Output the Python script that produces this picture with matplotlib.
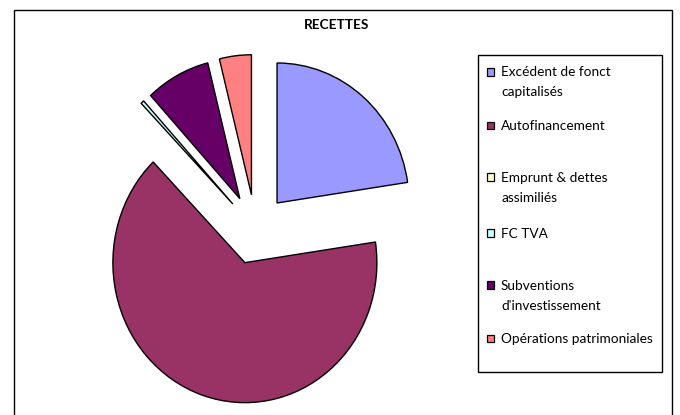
import matplotlib
matplotlib.use("Agg")
import matplotlib.pyplot as plt
from matplotlib.patches import Rectangle

plt.rcParams['font.family'] = ['Lato', 'DejaVu Sans']

# ---- data ----
categories = ["Excédent de fonct\ncapitalisés", "Autofinancement",
              "Emprunt & dettes\nassimiliés", "FC TVA",
              "Subventions\nd'investissement", "Opérations patrimoniales"]
values = [22.6, 65.0, 0.0, 0.4, 7.9, 3.9]
colors = ["#9999FF", "#993366", "#FFFFCC", "#CCFFFF", "#660066", "#FF8080"]
title = "RECETTES"

W, H = 680, 415
fig = plt.figure(figsize=(W / 100, H / 100), dpi=100)

# pie axes covering the whole figure (slightly stretched like the original)
RX, RY = 132.0, 140.0
cx, cy = 255.5, 229.5
ax = fig.add_axes([0, 0, 1, 1])
wedges, _ = ax.pie(values, colors=colors, startangle=90, counterclock=False,
                   explode=[0.25] * len(values), radius=1.0,
                   wedgeprops=dict(edgecolor="black", linewidth=1.0))
for w, v in zip(wedges, values):
    if v == 0:
        w.set_visible(False)
ax.set_aspect('auto')
ax.set_xlim(-cx / RX, (W - cx) / RX)
ax.set_ylim(-(H - cy) / RY, cy / RY)
ax.axis('off')

def px(x, y):
    return x / W, 1 - y / H

# outer chart frame
x0, y0 = px(14, 10)
x1, y1 = px(672, 418)
fig.patches.append(Rectangle((x0, y1), x1 - x0, y0 - y1, transform=fig.transFigure,
                             fill=False, edgecolor="black", linewidth=1.0, zorder=0))

# title
tx, ty = px(337, 25)
fig.text(tx, ty, title, ha="center", va="center", fontsize=9.8, fontweight="bold")

# legend box
lx0, ly0 = px(478, 55)
lx1, ly1 = px(662, 372)
fig.patches.append(Rectangle((lx0, ly1), lx1 - lx0, ly0 - ly1, transform=fig.transFigure,
                             fill=False, edgecolor="black", linewidth=1.0, zorder=5))

entry_y = [72, 125, 177, 233, 285, 338]
for lab, col, yy in zip(categories, colors, entry_y):
    sx, sy = px(486.5, yy + 4)
    fig.patches.append(Rectangle((sx, sy), 7.5 / W, 7.5 / H, transform=fig.transFigure,
                                 facecolor=col, edgecolor="black", linewidth=0.9, zorder=6))
    for j, line in enumerate(lab.split("\n")):
        tx, ty = px(501, yy + 20 * j + 4.5)
        fig.text(tx, ty, line, ha="left", va="baseline", fontsize=9.8)

fig.savefig("out.png", dpi=100, facecolor="white")
